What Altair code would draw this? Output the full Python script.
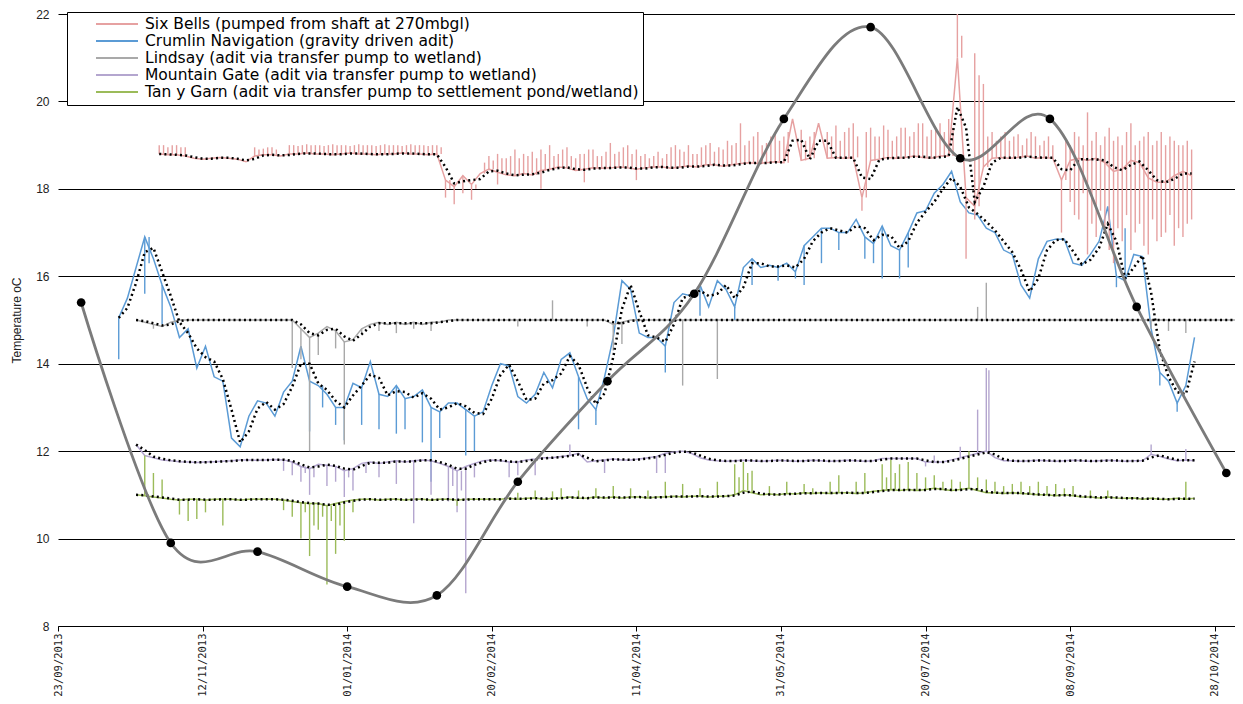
import math
import altair as alt
import pandas as pd

# ---------------- data ----------------
ORIGIN = "2013-09-23"          # first x tick
X_END = "2014-11-04"           # right edge of the plot
STEP_DAYS = 3                  # sampling interval of the logger series below

tick_dates = ["2013-09-23", "2013-11-12", "2014-01-01", "2014-02-20", "2014-04-11",
              "2014-05-31", "2014-07-20", "2014-09-08", "2014-10-28"]
y_ticks = [8, 10, 12, 14, 16, 18, 20, 22]

series_names = [
    "Six Bells (pumped from shaft at 270mbgl)",
    "Crumlin Navigation (gravity driven adit)",
    "Lindsay (adit via transfer pump to wetland)",
    "Mountain Gate (adit via transfer pump to wetland)",
    "Tan y Garn (adit via transfer pump to settlement pond/wetland)",
]
series_colors = ["#E6A1A1", "#5B9BD5", "#A9A9A9", "#B4A6CF", "#9BBB59"]

six_bells_start = "2013-10-28"
six_bells = [
    18.8, 18.78, 18.78, 18.75, 18.7, 18.68, 18.7, 18.72, 18.7, 18.68, 18.62, 18.75, 18.78, 18.78, 18.75, 18.8,
    18.8, 18.82, 18.8, 18.8, 18.78, 18.8, 18.82, 18.8, 18.8, 18.78, 18.8, 18.8, 18.82, 18.8, 18.8, 18.78, 18.8,
    18.2, 18.05, 18.3, 18.1, 18.35, 18.45, 18.38, 18.32, 18.3, 18.35, 18.32, 18.42, 18.45, 18.5, 18.48, 18.42,
    18.45, 18.48, 18.47, 18.48, 18.5, 18.48, 18.45, 18.48, 18.5, 18.5, 18.47, 18.5, 18.52, 18.5, 18.55, 18.55,
    18.52, 18.55, 18.58, 18.6, 18.58, 18.6, 18.62, 18.6,
    19.6, 18.65, 18.7, 19.5, 18.7, 18.72, 18.7, 18.72, 17.8, 18.65, 18.68, 18.72, 18.7, 18.72, 18.75, 18.72,
    18.7, 18.75, 18.75,
    21.0, 17.8, 17.6, 18.5, 18.7, 18.72, 18.7, 18.72, 18.75, 18.7, 18.72, 18.7, 18.2, 18.65, 18.7, 18.65,
    18.7, 18.6, 18.4, 18.45, 18.65, 18.6, 18.25, 18.15, 18.15, 18.3, 18.4, 18.3,
]
# (sample position along the series, spike tip)
six_bells_spikes = [
    (0, 19.0), (0.5, 19.0), (1, 18.95), (1.5, 19.0), (2, 19.0), (2.5, 18.95), (3, 18.95),
    (11, 18.95), (11.5, 18.9), (12, 18.92), (12.5, 18.95), (13, 18.95), (13.5, 18.9),
    (15, 19.0), (15.5, 19.0), (16, 18.98), (16.5, 19.0), (17, 19.02), (17.5, 19.0), (18, 19.0), (18.5, 19.0),
    (19, 18.98), (19.5, 19.0), (20, 19.02), (20.5, 19.0), (21, 19.0), (21.5, 19.0), (22, 18.98), (22.5, 19.0),
    (23, 19.02), (23.5, 19.0), (24, 19.0), (24.5, 19.0), (25, 18.98), (25.5, 19.0), (26, 19.02), (26.5, 19.0),
    (27, 19.0), (27.5, 19.0), (28, 18.98), (28.5, 19.0), (29, 19.02), (29.5, 19.0), (30, 19.0), (30.5, 19.0),
    (31, 18.98), (31.5, 19.0), (32, 19.0), (32.5, 18.95),
    (33, 17.8), (33.5, 18.0), (34, 17.65), (35, 17.9), (36, 17.75), (36.5, 18.0),
    (37.5, 18.6), (38, 18.75), (38.5, 18.65), (39, 18.8), (39.5, 18.7), (40, 18.7), (40.5, 18.75),
    (41, 18.9), (41.5, 18.7), (42, 18.8), (42.5, 18.75), (43, 18.85), (43.5, 18.7), (44, 18.9), (44.5, 18.8),
    (45, 19.0), (45.5, 18.75), (46, 18.8), (46.5, 18.9), (47, 18.95), (47.5, 18.75), (48, 18.7), (48.5, 18.8),
    (49, 18.8), (49.5, 18.9), (50, 18.9), (50.5, 18.75), (51, 18.75), (51.5, 18.85), (52, 19.05), (52.5, 18.8),
    (53, 18.85), (53.5, 18.95), (54, 19.0), (54.5, 18.8), (55, 18.9), (55.5, 18.75), (56, 18.8), (56.5, 18.7),
    (57, 18.75), (57.5, 18.85), (58, 18.7), (58.5, 18.8), (59, 18.95), (59.5, 19.0), (60, 18.9), (60.5, 18.85),
    (61, 19.0), (61.5, 18.8), (62, 18.8), (62.5, 18.95), (63, 19.0), (63.5, 19.05), (64, 18.85), (64.5, 18.95),
    (65, 18.9), (65.5, 19.1), (66, 19.0), (66.5, 19.05), (67, 19.5), (67.5, 19.0), (68, 19.1), (68.5, 19.2),
    (69, 19.3), (69.5, 19.0), (70, 19.05), (70.5, 19.2), (71, 19.3), (71.5, 19.1), (72, 19.2), (72.5, 19.3),
    (39, 18.1), (44, 18.0), (49, 18.15), (55, 18.2),
    (74, 19.35), (74.5, 19.1), (75, 19.2), (75.5, 19.3), (77, 19.3), (77.5, 19.2), (78, 19.45), (78.5, 19.1),
    (79, 19.3), (79.5, 19.4), (80, 19.5), (80.5, 19.2), (81, 17.5), (81.5, 19.3), (82, 19.4), (82.5, 19.2),
    (83, 19.2), (83.5, 19.45), (84, 19.35), (84.5, 19.1), (85, 19.2), (85.5, 19.4), (86, 19.4), (86.5, 19.2),
    (87, 19.3), (87.5, 19.5), (88, 19.5), (88.5, 19.2), (89, 19.35), (89.5, 19.4), (90, 19.5), (90.5, 19.3),
    (91, 19.6), (91.5, 19.4),
    (92, 22.0), (92.5, 21.5), (93, 16.4), (94, 21.1), (94, 17.3), (94.5, 20.6), (95, 20.4), (95.5, 19.2),
    (96, 19.3), (96.5, 19.1), (97, 19.2), (97.5, 19.3), (98, 19.1), (98.5, 19.2), (99, 19.25), (99.5, 19.0),
    (100, 19.15), (100.5, 19.3), (101, 19.2), (101.5, 19.0), (102, 19.1), (102.5, 19.2), (103, 19.0),
    (104, 17.0), (104.5, 19.1),
    (105, 19.0), (105.5, 19.3), (106, 19.2), (106.5, 19.0), (107, 19.75), (107.5, 19.1), (108, 19.3),
    (108.5, 19.0), (109, 19.2), (109.5, 19.4), (110, 19.1), (110.5, 19.2), (111, 19.0), (111.5, 19.3),
    (112, 19.5), (112.5, 19.0), (113, 19.1), (113.5, 19.2), (114, 19.3), (114.5, 19.0), (115, 19.1),
    (115.5, 19.3), (116, 19.0), (116.5, 19.2), (117, 19.1), (117.5, 19.0), (118, 19.0), (118.5, 19.1),
    (119, 18.9),
    (105, 17.7), (105.5, 17.4), (106, 17.3), (106.5, 17.9), (107, 16.5), (107.5, 17.2), (108, 16.9),
    (108.5, 17.5), (109, 17.0), (109.5, 16.6), (110, 16.3), (110.5, 17.1), (111, 16.8), (111.5, 17.4),
    (112, 16.6), (112.5, 17.0), (113, 17.2), (113.5, 16.7), (114, 16.5), (114.5, 17.3), (115, 16.8),
    (115.5, 16.9), (116, 17.0), (116.5, 17.4), (117, 16.7), (117.5, 17.1), (118, 16.9), (118.5, 17.2),
    (119, 17.3),
]

crumlin_start = "2013-10-14"
crumlin = [
    15.05, 15.5, 16.2, 16.9, 16.4, 15.8, 15.3, 14.6, 14.8, 13.9,
    14.4, 13.7, 13.6, 12.3, 12.1, 12.8, 13.15, 13.1, 12.8, 13.35,
    13.6, 14.4, 13.6, 13.5, 13.3, 13.0, 13.0, 13.55, 13.45, 14.05,
    13.3, 13.25, 13.5, 13.2, 13.25, 13.4, 13.0, 12.9, 13.1, 13.1,
    12.95, 12.8, 12.9, 13.5, 14.0, 13.95, 13.25, 13.1, 13.3, 13.8,
    13.45, 14.1, 14.25, 13.7, 13.2, 12.95, 13.7, 14.6, 15.9, 15.7,
    14.7, 14.6, 14.6, 14.4, 15.4, 15.6, 15.55, 15.8, 15.3, 15.9,
    15.7, 15.3, 16.2, 16.4, 16.2, 16.25, 16.2, 16.3, 16.1, 16.7,
    16.9, 17.1, 17.1, 17.0, 17.0, 17.3, 16.9, 16.75, 17.15, 16.7,
    16.6, 17.0, 17.45, 17.5, 17.9, 18.1, 18.4, 17.7, 17.45, 17.4,
    17.1, 17.0, 16.6, 16.5, 15.8, 15.5, 16.4, 16.8, 16.85, 16.85,
    16.3, 16.25, 16.5, 16.8, 17.6, 16.0, 15.9, 16.5, 16.45, 14.8,
    13.8, 13.6, 13.1, 13.5, 14.6,
]
crumlin_spikes = [
    (0, 14.1), (3, 15.6), (3.5, 16.3), (5, 14.9), (22, 12.45), (23.5, 13.0), (25, 12.6), (26, 12.25),
    (28, 12.6), (30, 12.5), (32, 12.4), (33, 12.5), (35, 12.2), (36, 11.3), (37, 12.3), (40, 11.9),
    (41, 12.0), (53, 12.5), (55, 12.6), (63, 13.8), (67, 15.1), (71, 15.0), (73, 15.8), (76, 15.9),
    (78, 15.95), (79, 15.8), (81, 16.3), (83, 16.6), (86, 16.4), (87, 16.3), (88, 15.95), (90, 15.95),
    (91, 16.2), (115, 15.75), (116, 17.1), (120, 13.5), (122, 12.9),
]

lindsay_start = "2013-10-20"
lindsay = [
    15.0, 14.95, 14.9, 14.85, 14.95, 15.0,
    15.0, 15.0, 15.0, 15.0, 15.0, 15.0, 15.0, 15.0, 15.0, 15.0, 15.0, 15.0, 15.0,
    14.8, 14.6, 14.7, 14.85, 14.75, 14.5, 14.55, 14.8,
    14.9, 14.95, 14.9, 14.95, 14.9, 14.95, 14.9, 14.95, 14.95,
    15.0, 15.0, 15.0, 15.0, 15.0, 15.0, 15.0, 15.0, 15.0, 15.0, 15.0, 15.0, 15.0, 15.0, 15.0, 15.0, 15.0,
    15.0, 15.0,
    14.9, 14.95,
    15.0, 15.0, 15.0, 15.0, 15.0, 15.0, 15.0, 15.0, 15.0, 15.0, 15.0, 15.0, 15.0, 15.0, 15.0, 15.0, 15.0,
    15.0, 15.0, 15.0, 15.0, 15.0, 15.0, 15.0, 15.0, 15.0, 15.0, 15.0, 15.0, 15.0, 15.0, 15.0, 15.0, 15.0,
    15.0, 15.0, 15.0, 15.0, 15.0, 15.0, 15.0, 15.0, 15.0, 15.0, 15.0, 15.0, 15.0, 15.0, 15.0, 15.0, 15.0,
    15.0, 15.0, 15.0, 15.0, 15.0, 15.0, 15.0, 15.0, 15.0, 15.0, 15.0, 15.0, 15.0, 15.0, 15.0, 15.0, 15.0,
    15.0, 15.0, 15.0, 15.0, 15.0, 15.0, 15.0,
    14.95, 14.9, 14.95, 14.9, 14.95, 14.95, 14.98,
]
lindsay_spikes = [
    (2, 14.8), (18, 13.9), (19, 14.1), (20, 12.0), (21, 14.2), (23, 14.35), (24, 12.15), (26, 14.7),
    (28, 14.75), (30, 14.7), (32, 14.8), (34, 14.75), (44, 14.85), (48, 15.45), (52, 14.85), (55, 14.3),
    (56, 14.45), (63, 13.5), (67, 13.65), (97, 15.3), (98, 15.85), (117, 14.8), (119, 14.75), (121, 14.7),
]

mountain_gate_start = "2013-10-20"
mountain_gate = [
    12.15, 11.9, 11.85, 11.8, 11.78,
    11.76, 11.75, 11.74, 11.75, 11.76, 11.77, 11.78, 11.8, 11.8, 11.79, 11.8, 11.81, 11.8,
    11.75, 11.65, 11.6, 11.7, 11.68, 11.65, 11.55, 11.6, 11.72, 11.75, 11.72, 11.75, 11.78, 11.75,
    11.78, 11.8, 11.78, 11.72, 11.65, 11.55, 11.65, 11.72, 11.78, 11.8, 11.78, 11.75, 11.75, 11.8,
    11.82, 11.85, 11.85, 11.88, 11.9, 11.95, 11.75, 11.78,
    11.8, 11.82, 11.8, 11.8, 11.82, 11.85,
    11.88, 11.95, 11.98, 12.0, 11.95, 11.85, 11.8,
    11.78, 11.77, 11.78, 11.79, 11.78, 11.77, 11.78, 11.79, 11.78, 11.77, 11.78, 11.79, 11.78, 11.77,
    11.78, 11.79, 11.78, 11.77, 11.78,
    11.83, 11.83, 11.83, 11.83, 11.83,
    11.75, 11.75, 11.75,
    11.8, 11.85, 11.9, 11.95, 12.0, 11.85,
    11.78, 11.78, 11.77, 11.78, 11.79, 11.78, 11.77, 11.78, 11.79, 11.78, 11.77, 11.78, 11.79, 11.78,
    11.77, 11.78, 11.78,
    11.93, 11.88, 11.82, 11.78, 11.8, 11.78,
]
mountain_gate_spikes = [
    (17, 11.55), (18, 11.45), (19, 11.3), (19.5, 11.5), (20, 11.0), (20.5, 11.4), (22, 11.2), (23, 11.3),
    (24, 10.95), (24.5, 11.4), (25, 11.1), (26.5, 11.5), (28, 11.4), (30, 11.25), (32, 10.35), (34, 11.0),
    (36, 10.85), (36.5, 11.2), (37, 10.6), (37.5, 11.1), (38, 8.75), (39, 11.4), (43, 11.4), (44, 11.45),
    (46, 11.45), (50, 12.15), (54, 11.5), (60, 11.5), (61, 11.5), (91, 11.65), (92, 11.9), (95, 12.1),
    (97, 12.95), (98, 13.9), (98.3, 13.85), (117, 12.15), (121, 12.05),
]

tan_y_garn_start = "2013-10-20"
tan_y_garn = [
    11.0, 10.98, 10.95, 10.93, 10.9, 10.88,
    10.9, 10.9, 10.88, 10.9, 10.9, 10.9, 10.88, 10.9, 10.9, 10.9, 10.9, 10.88,
    10.85, 10.82, 10.8, 10.8, 10.75, 10.8, 10.85,
    10.88, 10.9, 10.9, 10.88, 10.9, 10.9, 10.88, 10.9, 10.9, 10.88, 10.9, 10.9, 10.88, 10.9, 10.9, 10.9,
    10.9,
    10.9, 10.92, 10.9, 10.92, 10.93, 10.9, 10.92, 10.93, 10.95, 10.92, 10.93, 10.95, 10.93, 10.95, 10.93,
    10.95, 10.95, 10.93, 10.95,
    10.95, 10.97, 10.95, 10.97, 10.97, 10.95, 10.97, 10.97,
    11.0, 11.1, 11.05,
    11.0, 11.02, 11.0, 11.03, 11.02, 11.05, 11.03, 11.05, 11.03, 11.05, 11.05, 11.03, 11.05,
    11.08, 11.1, 11.12, 11.1, 11.12, 11.1, 11.12, 11.15, 11.12, 11.1, 11.12, 11.15,
    11.1,
    11.05, 11.05, 11.03, 11.05, 11.03, 11.02, 11.0, 11.0, 10.98, 11.0, 10.98,
    10.95, 10.95, 10.93, 10.95, 10.93, 10.92, 10.93, 10.9, 10.92, 10.9, 10.9, 10.92, 10.9, 10.92,
]
tan_y_garn_spikes = [
    (1, 11.9), (2, 11.5), (3, 11.35), (5, 10.55), (6, 10.4), (7, 10.45), (8, 10.6), (10, 10.3),
    (17, 10.65), (18, 10.5), (19, 10.0), (19.5, 10.6), (20, 9.6), (20.5, 10.3), (21, 10.2), (21.5, 10.5),
    (22, 8.95), (22.5, 10.4), (23, 9.65), (23.5, 10.3), (24, 9.95), (25, 10.6), (37, 10.75),
    (44, 11.05), (46, 11.1), (48, 11.08), (49, 11.15), (51, 11.1), (53, 11.15), (55, 11.2), (57, 11.15),
    (59, 11.1), (61, 11.3), (63, 11.25), (65, 11.15), (67, 11.3), (69, 11.7), (69.5, 11.4), (70, 11.75),
    (70.5, 11.5), (71, 11.55), (73, 11.2), (75, 11.3), (77, 11.25), (78, 11.15), (80, 11.3), (81, 11.45),
    (83, 11.3), (84, 11.5), (86, 11.7), (86.5, 11.4), (87, 11.8), (87.5, 11.5), (88, 11.7), (89, 11.75),
    (90, 11.5), (91, 11.4), (92, 11.45), (93, 11.3), (94, 11.35), (95, 11.3), (96, 12.0), (97, 11.4),
    (98, 11.35), (99, 11.3), (100, 11.2), (101, 11.25), (102, 11.3), (103, 11.2), (104, 11.3), (105, 11.2),
    (106, 11.25), (107, 11.15), (108, 11.2), (110, 11.1), (112, 11.1), (121, 11.3),
]

# monthly air temperature (smoothed grey curve with black markers)
air_dates = ["2013-10-01", "2013-11-01", "2013-12-01", "2014-01-01", "2014-02-01", "2014-03-01",
             "2014-04-01", "2014-05-01", "2014-06-01", "2014-07-01", "2014-08-01", "2014-09-01",
             "2014-10-01", "2014-11-01"]
air_temp = [15.4, 9.9, 9.7, 8.9, 8.7, 11.3, 13.6, 15.6, 19.6, 21.7, 18.7, 19.6, 15.3, 11.5]

# ---------------- tables ----------------
origin = pd.Timestamp(ORIGIN)


def day_of(d):
    return (pd.Timestamp(d) - origin).days


def build(name, start, values, spikes):
    day0 = day_of(start)
    base = pd.DataFrame({"idx": range(len(values)), "value": values})
    base["series"] = name
    base["day"] = day0 + STEP_DAYS * base["idx"]
    sp = pd.DataFrame(spikes, columns=["pos", "tip"])
    sp["idx"] = [int(math.floor(p)) for p in sp["pos"]]
    sp = sp.merge(base[["idx", "value", "series"]], on="idx")
    sp["day"] = day0 + STEP_DAYS * sp["pos"]
    return base, sp


parts = [
    build(series_names[0], six_bells_start, six_bells, six_bells_spikes),
    build(series_names[1], crumlin_start, crumlin, crumlin_spikes),
    build(series_names[2], lindsay_start, lindsay, lindsay_spikes),
    build(series_names[3], mountain_gate_start, mountain_gate, mountain_gate_spikes),
    build(series_names[4], tan_y_garn_start, tan_y_garn, tan_y_garn_spikes),
]
lines_df = pd.concat([p[0] for p in parts], ignore_index=True)
spikes_df = pd.concat([p[1] for p in parts], ignore_index=True)
air_df = pd.DataFrame({"day": [day_of(d) for d in air_dates], "value": air_temp})

tick_days = [day_of(d) for d in tick_dates]
x_max = day_of(X_END)

# ---------------- encodings ----------------
label_expr = (f"utcFormat(utc({origin.year}, {origin.month - 1}, {origin.day}) + "
              f"datum.value * 86400000, '%d/%m/%Y')")
x_enc = alt.X("day:Q", title=None,
              scale=alt.Scale(domain=[0, x_max], nice=False, zero=False),
              axis=alt.Axis(values=tick_days, labelExpr=label_expr, labelAngle=-90,
                            grid=False, domainColor="black", tickColor="black", tickSize=5,
                            labelFont="DejaVu Sans Mono", labelFontSize=10.5, labelColor="#222222",
                            labelPadding=2, labelFlush=False, labelOverlap=False))
Y_TITLE = "Temperature oC"
y_scale = alt.Scale(domain=[8, 22], nice=False, zero=False)
y_axis = alt.Axis(values=y_ticks, grid=True, gridColor="black", gridWidth=1, ticks=False,
                  domain=False, labelFont="Liberation Sans", labelFontSize=12, labelColor="#222222",
                  labelPadding=9, labelFlush=False, titleFont="Liberation Sans", titleFontSize=12,
                  titleFontWeight="normal", titleColor="#222222", titlePadding=12)

legend = alt.Legend(title=None, orient="none", legendX=9, legendY=-2, direction="vertical",
                    fillColor="white", strokeColor="black", padding=4,
                    symbolType="M-3,0H3", symbolSize=196, symbolStrokeWidth=2, symbolOffset=38,
                    labelFont="DejaVu Sans", labelFontSize=15.5, labelColor="black",
                    labelLimit=700, rowPadding=-1, labelOffset=20)
color_enc = alt.Color("series:N", sort=series_names,
                      scale=alt.Scale(domain=series_names, range=series_colors), legend=legend)

lines = alt.Chart(lines_df).mark_line(strokeWidth=1.5, clip=True).encode(
    x=x_enc,
    y=alt.Y("value:Q", title=Y_TITLE, scale=y_scale, axis=y_axis),
    color=color_enc,
    order="day:Q",
)

spikes = alt.Chart(spikes_df).mark_rule(strokeWidth=1.4, clip=True).encode(
    x=x_enc,
    y=alt.Y("value:Q", title=Y_TITLE, scale=y_scale, axis=y_axis),
    y2="tip:Q",
    color=color_enc,
)

ma = alt.Chart(lines_df).transform_window(
    ma="mean(value)", frame=[-1, 0], groupby=["series"], sort=[alt.SortField("day")]
).mark_line(color="black", strokeWidth=2.5, strokeDash=[2, 3.2], clip=True).encode(
    x=x_enc,
    y=alt.Y("ma:Q", title=Y_TITLE, scale=y_scale, axis=y_axis),
    detail="series:N",
    order="day:Q",
)

air_line = alt.Chart(air_df).mark_line(color="#7B7B7B", strokeWidth=2.8, interpolate="cardinal",
                                       clip=True).encode(
    x=x_enc,
    y=alt.Y("value:Q", title=Y_TITLE, scale=y_scale, axis=y_axis),
)
air_pts = alt.Chart(air_df).mark_circle(color="black", size=75, opacity=1).encode(
    x=x_enc,
    y=alt.Y("value:Q", title=Y_TITLE, scale=y_scale, axis=y_axis),
)

chart = alt.layer(lines, spikes, ma, air_line, air_pts).properties(
    width=1177, height=612,
    padding={"left": 50, "top": 6, "right": 0, "bottom": 72},
    autosize=alt.AutoSizeParams(type="none"),
    background="white",
).configure_view(stroke="transparent")

chart.save("out.html", embed_options={"renderer": "svg", "actions": False})
